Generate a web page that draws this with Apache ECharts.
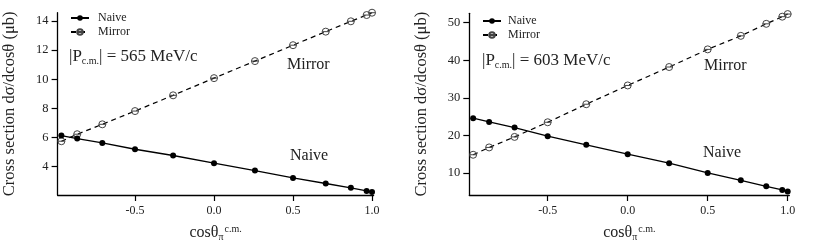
<!DOCTYPE html>
<html><head><meta charset="utf-8">
<script src="https://cdn.jsdelivr.net/npm/echarts@6/dist/echarts.min.js"></script>
<style>html,body{margin:0;padding:0;background:#fff}#c{width:817px;height:249px}</style>
</head><body><div id="c"></div>
<script>
const cosTheta = [-0.966,-0.866,-0.707,-0.5,-0.259,0,0.259,0.5,0.707,0.866,0.966,1.0];
const naive565 = [6.14,5.93,5.63,5.20,4.77,4.24,3.74,3.23,2.85,2.55,2.34,2.27];
const mirror565 = [5.75,6.23,6.91,7.82,8.90,10.08,11.25,12.34,13.27,13.98,14.41,14.57];
const naive603 = [24.6,23.6,22.1,19.8,17.5,15.0,12.6,10.0,8.05,6.45,5.5,5.1];
const mirror603 = [14.85,16.8,19.6,23.5,28.3,33.3,38.2,42.9,46.5,49.7,51.6,52.3];
const xTicks = [-0.5,0,0.5,1.0];
const yTicks565 = [4,6,8,10,12,14];
const yTicks603 = [10,20,30,40,50];
const seriesNames = ['Naive','Mirror'];
const momenta = ['565','603'];

const F = 'Liberation Serif';
const pair = (xs, ys) => xs.map((x,i)=>[x, ys[i]]);
const mirrorSym = 'path://M1,5A4,4,0,1,1,9,5A4,4,0,1,1,1,5ZM1,5L9,5';

function xAxis(gi){
  return {
    type:'value', gridIndex:gi, min:-0.99, max:1.01,
    splitLine:{show:false},
    axisLine:{show:true, onZero:false, lineStyle:{color:'#000', width:1.3}},
    axisTick:{show:true, length:6, customValues:xTicks, lineStyle:{color:'#000', width:1.2}},
    axisLabel:{customValues:xTicks, margin:10, fontFamily:F, fontSize:12, color:'#222',
      formatter:v=>v.toFixed(1)},
    name:'{m|cosθ}{sub|π}{sup|c.m.}', nameLocation:'middle', nameGap:29,
    nameTextStyle:{fontFamily:F, color:'#222', rich:{
      m:{fontFamily:F, fontSize:16, color:'#222', lineHeight:18},
      sub:{fontFamily:F, fontSize:10, color:'#222', verticalAlign:'bottom', lineHeight:10, padding:[0,1,0,0]},
      sup:{fontFamily:F, fontSize:10, color:'#222', verticalAlign:'top', lineHeight:10}
    }}
  };
}
function yAxis(gi, min, max, ticks){
  return {
    type:'value', gridIndex:gi, min:min, max:max,
    splitLine:{show:false},
    axisLine:{show:true, onZero:false, lineStyle:{color:'#000', width:1.3}},
    axisTick:{show:true, length:6, customValues:ticks, lineStyle:{color:'#000', width:1.2}},
    axisLabel:{customValues:ticks, margin:9, fontFamily:F, fontSize:12.5, color:'#222'},
    name:'Cross section dσ/dcosθ (μb)', nameLocation:'middle', nameGap:39, nameRotate:90,
    nameTextStyle:{fontFamily:F, fontSize:16.5, color:'#222'}
  };
}
function naiveSeries(gi, ys){
  return {name:seriesNames[0], type:'line', xAxisIndex:gi, yAxisIndex:gi, data:pair(cosTheta, ys),
    symbol:'circle', symbolSize:6, lineStyle:{color:'#000', width:1.3},
    itemStyle:{color:'#000'}, animation:false, z:3};
}
function mirrorSeries(gi, ys){
  return {name:seriesNames[1], type:'line', xAxisIndex:gi, yAxisIndex:gi, data:pair(cosTheta, ys),
    symbol:mirrorSym, symbolSize:7, lineStyle:{color:'#000', width:1.2, type:[5,4]},
    itemStyle:{color:'rgba(0,0,0,0)', borderColor:'#444', borderWidth:1}, animation:false, z:2};
}
function legend(left, top, pad){
  return {left:left, top:top, orient:'vertical', itemWidth:18, itemHeight:7, itemGap:2, padding:0,
    data:seriesNames, textStyle:{fontFamily:F, fontSize:12, color:'#222', padding:[0,0,0,pad]},
    selectedMode:false};
}
function pLabel(x, y, p){
  return {type:'text', left:x, top:y, style:{
    text:'{a||P}{s|c.m.}{a|| = '+p+' MeV/c}',
    rich:{a:{fontFamily:F, fontSize:17, fill:'#222', lineHeight:20},
          s:{fontFamily:F, fontSize:10, fill:'#222', verticalAlign:'bottom', lineHeight:14}}}};
}
function txt(x, y, t){
  return {type:'text', left:x, top:y, style:{text:t, fontFamily:F, fontSize:16, fill:'#222'}};
}

const chart = echarts.init(document.getElementById('c'), null, {renderer:'canvas'});
chart.setOption({
  backgroundColor:'#fff',
  animation:false,
  grid:[{left:57.6, top:12.7, width:316, bottom:54},
        {left:469.3, top:13.3, width:320, bottom:54}],
  xAxis:[xAxis(0), xAxis(1)],
  yAxis:[yAxis(0, 2.06, 14.57, yTicks565), yAxis(1, 4.14, 52.5, yTicks603)],
  legend:[legend(70, 12, 4), legend(482, 15, 2)],
  series:[naiveSeries(0, naive565), mirrorSeries(0, mirror565),
          naiveSeries(1, naive603), mirrorSeries(1, mirror603)],
  graphic:[pLabel(69, 48, momenta[0]), pLabel(482, 52, momenta[1]),
           txt(287, 57, 'Mirror'), txt(290, 148, 'Naive'),
           txt(704, 58, 'Mirror'), txt(703, 145, 'Naive')]
});
</script></body></html>
